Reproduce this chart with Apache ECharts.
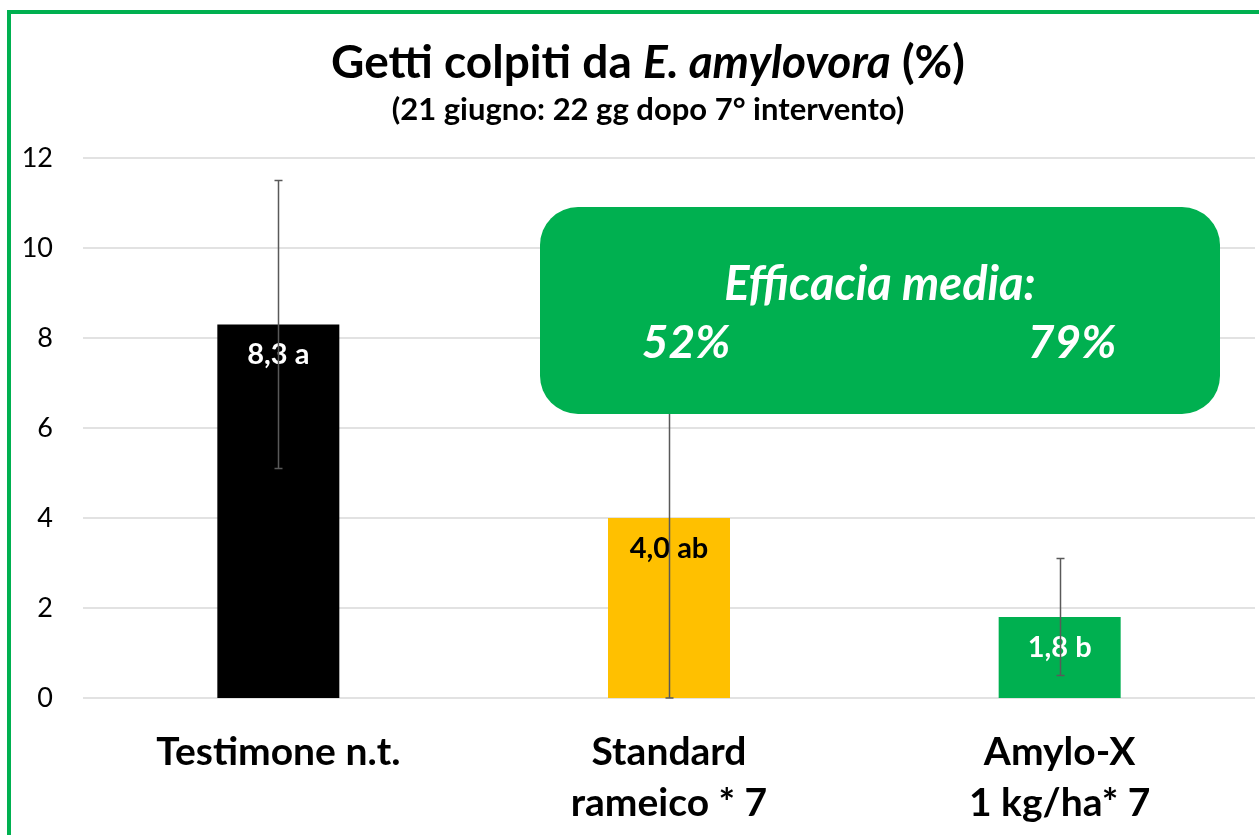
<!DOCTYPE html>
<html>
<head>
<meta charset="utf-8">
<script src="https://cdn.jsdelivr.net/npm/echarts@6/dist/echarts.min.js"></script>
<style>
  html, body { margin: 0; padding: 0; background: #fff; }
  #chart { width: 1259px; height: 835px; }
</style>
</head>
<body>
<div id="chart"></div>
<script>
var categories = ['Testimone n.t.', 'Standard\nrameico * 7', 'Amylo-X\n1 kg/ha* 7'];
var values = [8.3, 4.0, 1.8];
var errLow = [5.1, 0, 0.5];
var errHigh = [11.5, 8.0, 3.1];
var barLabels = ['8,3 a', '4,0 ab', '1,8 b'];
var barColors = ['#000000', '#FFC000', '#00B050'];
var labelColors = ['#ffffff', '#000000', '#ffffff'];
var yTicks = [0, 2, 4, 6, 8, 10, 12];

var font = 'Lato, "Open Sans", sans-serif';

var chart = echarts.init(document.getElementById('chart'));

// testo bianco corsivo nel riquadro verde
function boxText(txt, x, y, size) {
  return {
    type: 'text',
    z: 102,
    x: x, y: y,
    style: {
      text: txt, fill: '#fff', fontSize: size, fontWeight: 'bold',
      fontStyle: 'italic', fontFamily: font, align: 'center', verticalAlign: 'middle'
    }
  };
}

var option = {
  backgroundColor: '#ffffff',
  textStyle: { fontFamily: font },
  title: {
    left: 643,
    textAlign: 'center',
    top: 35,
    text: '{b|Getti colpiti da }{i|E. amylovora}{b| (%)}',
    subtext: '(21 giugno: 22 gg dopo 7° intervento)',
    itemGap: 8,
    textStyle: {
      rich: {
        b: { fontSize: 46, fontWeight: 'bold', color: '#000', fontFamily: font },
        i: { fontSize: 46, fontWeight: 'bold', fontStyle: 'italic', color: '#000', fontFamily: font }
      }
    },
    subtextStyle: { fontSize: 31, fontWeight: 'bold', color: '#000', fontFamily: font }
  },
  grid: { left: 83, right: 4, top: 158, bottom: 137 },
  xAxis: {
    type: 'category',
    data: categories,
    axisLine: { show: false },
    axisTick: { show: false },
    axisLabel: {
      color: '#000',
      fontSize: 39,
      fontWeight: 'bold',
      lineHeight: 51,
      margin: 29,
      fontFamily: font
    }
  },
  yAxis: {
    type: 'value',
    min: yTicks[0],
    max: yTicks[yTicks.length - 1],
    interval: 2,
    axisLine: { show: false },
    axisTick: { show: false },
    axisLabel: { color: '#000', fontSize: 27, margin: 30, fontFamily: font },
    splitLine: { lineStyle: { color: '#d9d9d9', width: 1.5 } }
  },
  series: [
    {
      type: 'bar',
      barWidth: 122,
      data: values.map(function (v, i) {
        return {
          value: v,
          itemStyle: { color: barColors[i] },
          label: {
            show: true,
            position: 'insideTop',
            distance: 16,
            formatter: barLabels[i],
            color: labelColors[i],
            fontSize: 29,
            fontWeight: 'bold',
            fontFamily: font
          }
        };
      }),
      z: 2
    },
    {
      type: 'custom',
      z: 3,
      data: values.map(function (v, i) { return [i, errLow[i], errHigh[i]]; }),
      renderItem: function (params, api) {
        var lo = api.coord([api.value(0), api.value(1)]);
        var hi = api.coord([api.value(0), api.value(2)]);
        var x = Math.round(lo[0]) + 0.5;
        var cap = 4;
        var st = { stroke: '#595959', lineWidth: 1.5 };
        return {
          type: 'group',
          children: [
            { type: 'line', shape: { x1: x, y1: lo[1], x2: x, y2: hi[1] }, style: st },
            { type: 'line', shape: { x1: x - cap, y1: hi[1], x2: x + cap, y2: hi[1] }, style: st },
            { type: 'line', shape: { x1: x - cap, y1: lo[1], x2: x + cap, y2: lo[1] }, style: st }
          ]
        };
      }
    }
  ],
  graphic: [
    {
      type: 'rect',
      z: 100,
      shape: { x: 9, y: 12, width: 1400, height: 1000 },
      style: { fill: 'none', stroke: '#00B050', lineWidth: 4 }
    },
    {
      type: 'rect',
      z: 101,
      shape: { x: 540, y: 207, width: 680, height: 207, r: 38 },
      style: { fill: '#00B050' }
    },
    boxText('Efficacia media:', 880, 285, 47),
    boxText('52%', 686, 343, 46),
    boxText('79%', 1072, 343, 46)
  ]
};

chart.setOption(option);
</script>
</body>
</html>
